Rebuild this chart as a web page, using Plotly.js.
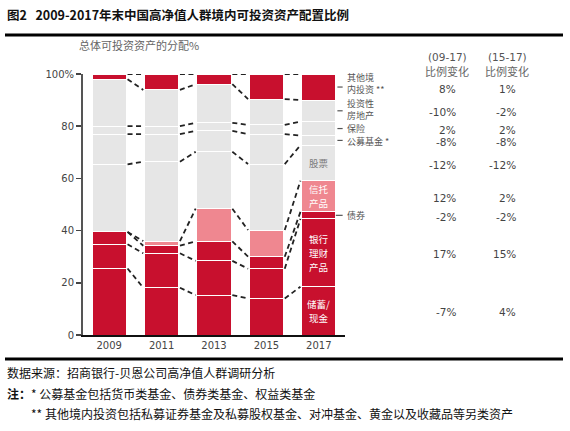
<!DOCTYPE html>
<html>
<head>
<meta charset="utf-8">
<script src="https://cdn.plot.ly/plotly-3.0.1.min.js"></script>
<style>
  html, body { margin: 0; padding: 0; background: #ffffff; }
  #chart { width: 570px; height: 431px; }
</style>
</head>
<body>
<div id="chart"></div>
<script>
// ---------------- DATA ----------------
const years = ['2009', '2011', '2013', '2015', '2017'];
const categories = ['储蓄/现金', '银行理财产品', '债券', '信托产品', '股票', '公募基金', '保险', '投资性房地产', '其他境内投资'];
const savingsCash   = [25.5, 18.1, 15.3, 14.0, 18.5];
const bankWealth    = [ 9.3, 13.2, 13.1, 11.4, 26.0];
const bonds         = [ 4.7,  2.9,  7.5,  4.6,  2.7];
const trustProducts = [ 0.0,  1.8, 12.5, 10.2, 11.9];
const stocks        = [25.9, 30.4, 21.8, 25.3, 13.6];
const mutualFunds   = [11.6, 10.6,  8.0, 11.5,  3.7];
const insurance     = [ 3.0,  3.0,  3.1,  3.5,  5.4];
const realEstate    = [18.0, 13.9, 14.8,  9.9,  8.2];
const otherDomestic = [ 2.0,  6.1,  3.9,  9.6, 10.0];
const change0917 = ['-7%', '17%', '-2%', '12%', '-12%', '-8%', '2%', '-10%', '8%'];
const change1517 = ['4%', '15%', '-2%', '2%', '-12%', '-8%', '2%', '-2%', '1%'];
const yTickVals = [0, 20, 40, 60, 80, 100];
const yTickText = ['0', '20', '40', '60', '80', '100%'];
const insideLabels = {0: ['储蓄/', '现金'], 1: ['银行', '理财', '产品'], 3: ['信托', '产品'], 4: ['股票']};
const sideLabels = {8: '其他境<br>内投资 **', 7: '投资性<br>房地产', 6: '保险', 5: '公募基金 *', 2: '债券'};
const titleText = '图2   2009-2017年末中国高净值人群境内可投资资产配置比例';
const subtitleText = '总体可投资资产的分配%';
const headers = [['(09-17)', '比例变化'], ['(15-17)', '比例变化']];
const footLines = ['数据来源：招商银行-贝恩公司高净值人群调研分析',
                   '<b>注：</b>* 公募基金包括货币类基金、债券类基金、权益类基金',
                   '** 其他境内投资包括私募证券基金及私募股权基金、对冲基金、黄金以及收藏品等另类资产'];

// ---------------- STYLE ----------------
const RED = '#c8102e', PINK = '#ef8790', GRAY = '#e6e6e6';
const segColors = [RED, RED, RED, PINK, GRAY, GRAY, GRAY, GRAY, RED];
const series = [savingsCash, bankWealth, bonds, trustProducts, stocks, mutualFunds, insurance, realEstate, otherDomestic];
const xs = years.map((_, i) => i);
const CJK = '"Noto Sans CJK SC", "DejaVu Sans", sans-serif';
const NUM = '"DejaVu Sans", "Noto Sans CJK SC", sans-serif';

const traces = series.map((vals, k) => ({
  type: 'bar', x: xs, y: vals, name: categories[k],
  marker: {color: segColors[k], line: {color: '#ffffff', width: 1}},
  hoverinfo: 'skip', showlegend: false
}));

// cumulative tops
const cum = series.map((_, k) => xs.map(i => series.slice(0, k + 1).reduce((s, a) => s + a[i], 0)));
const half = 0.325, gap = 0.025;
const cx = [], cy = [];
cum.forEach(row => {
  for (let i = 0; i < xs.length - 1; i++) {
    cx.push(xs[i] + half + gap, xs[i + 1] - half - gap, null);
    cy.push(row[i], row[i + 1], null);
  }
});
traces.push({type: 'scatter', mode: 'lines', x: cx, y: cy, connectgaps: false,
  line: {color: '#222222', width: 1.8, dash: '5px,3.5px'}, hoverinfo: 'skip', showlegend: false});

const last = xs.length - 1;
const mid = k => cum[k][last] - series[k][last] / 2;

// paper coords relative to plot area (83..345 x, 74..335 y)
const px = v => (v - 83) / 262;
const py = v => (335 - v) / 261;

const annotations = [];
const shapes = [];
// inside labels: one annotation per line, spaced so boxes do not collide
const insideSpacing = 14;
Object.keys(insideLabels).forEach(k => {
  const col = (segColors[k] === GRAY) ? '#7a7a7a' : '#ffffff';
  const lines = insideLabels[k];
  const n = lines.length;
  lines.forEach((t, j) => {
    annotations.push({xref: 'x', yref: 'y', x: xs[last], y: mid(+k), yshift: ((n - 1) / 2 - j) * insideSpacing,
      text: t, showarrow: false, xanchor: 'center', yanchor: 'middle',
      font: {family: CJK, size: 9.5, color: col}});
  });
});
// side labels + leaders
const sideShift = {8: 4, 7: 1.5, 6: 0, 5: -1, 2: 0};
Object.keys(sideLabels).forEach(k => {
  const y = mid(+k);
  shapes.push({type: 'line', xref: 'x', yref: 'y', x0: xs[last] + half + (k == 2 ? 0 : 0.03), x1: xs[last] + half + 0.13, y0: y, y1: y,
    line: {color: '#555555', width: 1.2}});
  annotations.push({xref: 'paper', yref: 'y', x: px(345), y: y, yshift: sideShift[k], text: sideLabels[k], showarrow: false,
    xanchor: 'left', yanchor: 'middle', align: 'left', font: {family: CJK, size: 9, color: '#555555'}});
});
// change columns
const colX = [px(457.5), px(517.5)];
[change0917, change1517].forEach((arr, c) => {
  arr.forEach((t, k) => {
    annotations.push({xref: 'paper', yref: 'y', x: colX[c], y: mid(k), yshift: -1.5, text: t, showarrow: false,
      xanchor: 'right', yanchor: 'middle', font: {family: NUM, size: 10.5, color: '#444444'}});
  });
  const hx = colX[c] - 0.04;
  annotations.push({xref: 'paper', yref: 'paper', x: hx, y: py(57), text: headers[c][0], showarrow: false,
    xanchor: 'center', yanchor: 'middle', font: {family: NUM, size: 10.5, color: '#555555'}});
  annotations.push({xref: 'paper', yref: 'paper', x: hx, y: py(71), text: headers[c][1], showarrow: false,
    xanchor: 'center', yanchor: 'middle', font: {family: CJK, size: 11, color: '#666666'}});
});
// title, subtitle, footer
annotations.push({xref: 'paper', yref: 'paper', x: px(5), y: py(14), text: '<b>' + titleText + '</b>', showarrow: false,
  xanchor: 'left', yanchor: 'middle', font: {family: CJK, size: 12.5, color: '#111111'}});
annotations.push({xref: 'paper', yref: 'paper', x: px(77), y: py(45), text: subtitleText, showarrow: false,
  xanchor: 'left', yanchor: 'middle', font: {family: CJK, size: 11, color: '#666666'}});
const footY = [372, 393, 414];
const footX = [5, 5, 29];
footLines.forEach((t, j) => {
  annotations.push({xref: 'paper', yref: 'paper', x: px(footX[j]), y: py(footY[j]), text: t, showarrow: false,
    xanchor: 'left', yanchor: 'middle', font: {family: CJK, size: 12, color: '#111111'}});
});
shapes.push({type: 'line', xref: 'paper', yref: 'paper', x0: px(5), x1: px(563), y0: py(35), y1: py(35),
  line: {color: '#000000', width: 3}});
shapes.push({type: 'line', xref: 'paper', yref: 'paper', x0: px(5), x1: px(563), y0: py(359), y1: py(359),
  line: {color: '#000000', width: 3}});

const layout = {
  width: 570, height: 431,
  margin: {l: 83, r: 225, t: 74, b: 96, pad: 0},
  paper_bgcolor: '#ffffff', plot_bgcolor: '#ffffff',
  barmode: 'stack', bargap: 0.35,
  showlegend: false,
  font: {family: NUM, size: 10, color: '#444444'},
  xaxis: {range: [-0.5, 4.5], tickvals: xs, ticktext: years, showgrid: false, zeroline: false,
    showline: true, linecolor: '#111111', linewidth: 2, ticks: '', fixedrange: true,
    tickfont: {family: NUM, size: 10, color: '#444444'}},
  yaxis: {range: [0, 100], tickvals: yTickVals, ticktext: yTickText, showgrid: false, zeroline: false,
    showline: true, linecolor: '#555555', linewidth: 2, ticks: 'outside', ticklen: 5, tickwidth: 1.5,
    tickcolor: '#444444', fixedrange: true, tickfont: {family: NUM, size: 10, color: '#444444'}},
  annotations: annotations,
  shapes: shapes
};
Plotly.newPlot('chart', traces, layout, {staticPlot: true, displayModeBar: false});
</script>
</body>
</html>
